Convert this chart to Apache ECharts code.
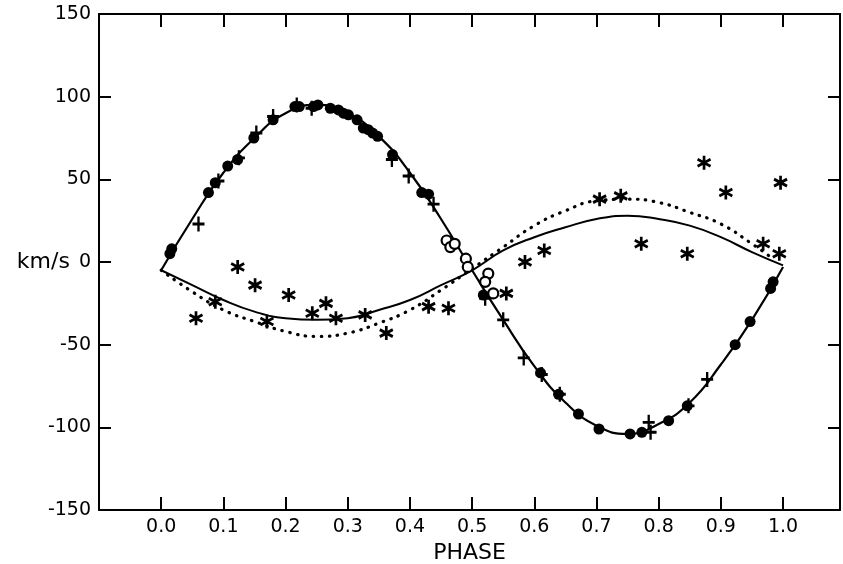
<!DOCTYPE html>
<html>
<head>
<meta charset="utf-8">
<script src="https://cdn.jsdelivr.net/npm/echarts@6/dist/echarts.min.js"></script>
<style>
html,body{margin:0;padding:0;background:#fff;}
#chart{width:843px;height:564px;}
</style>
</head>
<body>
<div id="chart"></div>
<script>
// ---- data ----
var fitPhase = [0.00,0.05,0.10,0.15,0.20,0.25,0.30,0.35,0.40,0.45,0.50,0.55,0.60,0.65,0.70,0.75,0.80,0.85,0.90,0.95,1.00];
var primaryFit = [-5,26,54,75,90,95,90,76,54,26,-5,-35,-63,-85,-99,-104,-98,-85,-62,-35,-3];
var secondaryFit = [-5,-14,-23,-30,-34,-35,-34,-29,-23,-14,-5,7,15,21,26,28,26,22,15,6,-2];
var dottedPhase = [0.00,0.05,0.10,0.15,0.20,0.25,0.30,0.35,0.40,0.45,0.50,0.55,0.60,0.65,0.70,0.75,0.80,0.85,0.90,0.95,0.98];
var secondaryFitAlt = [-5,-18,-29,-36,-42,-45,-43,-37,-29,-17,-4,9,22,31,37,38,36,30,23,11,3];

var filledCircles = [[0.014,5],[0.017,8],[0.076,42],[0.087,48],[0.107,58],[0.123,62],[0.149,75],[0.180,86],[0.215,94],[0.222,94],[0.245,94],[0.252,95],[0.272,93],[0.285,92],[0.293,90],[0.301,89],[0.315,86],[0.325,81],[0.333,80],[0.340,78],[0.348,76],[0.372,65],[0.419,42],[0.430,41],[0.518,-20],[0.610,-67],[0.639,-80],[0.671,-92],[0.704,-101],[0.754,-104],[0.773,-103],[0.816,-96],[0.846,-87],[0.923,-50],[0.947,-36],[0.980,-16],[0.984,-12]];
var plusPoints = [[0.060,23],[0.092,49],[0.125,63],[0.153,78],[0.180,88],[0.218,95],[0.242,93],[0.371,62],[0.398,52],[0.438,35],[0.521,-22],[0.550,-35],[0.583,-58],[0.612,-68],[0.641,-80],[0.784,-97],[0.787,-103],[0.848,-87],[0.878,-71]];
var openCircles = [[0.459,13],[0.465,9],[0.472,11],[0.490,2],[0.493,-3],[0.526,-7],[0.521,-12],[0.534,-19]];
var asterisks = [[0.056,-34],[0.087,-24],[0.123,-3],[0.151,-14],[0.170,-36],[0.205,-20],[0.243,-31],[0.265,-25],[0.281,-34],[0.328,-32],[0.362,-43],[0.430,-27],[0.462,-28],[0.555,-19],[0.585,0],[0.616,7],[0.705,38],[0.739,40],[0.772,11],[0.846,5],[0.873,60],[0.908,42],[0.968,11],[0.994,5],[0.996,48]];

var xTickLabels = ['0.0','0.1','0.2','0.3','0.4','0.5','0.6','0.7','0.8','0.9','1.0'];
var yTickLabels = {'150':'150','100':'100','50':'50','0':'{u|km/s}0','-50':'-50','-100':'-100','-150':'-150'};

function pairs(xs, ys){ return xs.map(function(x,i){ return [x, ys[i]]; }); }

var FONT = 'DejaVu Sans';
var chart = echarts.init(document.getElementById('chart'), null, {renderer:'canvas'});
var axisLine = {show:true, onZero:false, lineStyle:{color:'#000', width:2}};
var xBase = {type:'value', min:-0.1, max:1.0916, interval:0.1, splitLine:{show:false}, axisLine:axisLine};

chart.setOption({
  backgroundColor:'#fff',
  animation:false,
  textStyle:{fontFamily:FONT},
  grid:{left:99, top:14, right:3, bottom:54, containLabel:false, outerBoundsMode:'none'},
  xAxis:[
    Object.assign({}, xBase, {
      position:'bottom',
      name:'PHASE', nameLocation:'middle', nameGap:27,
      nameTextStyle:{fontSize:22, color:'#000', fontFamily:FONT},
      axisTick:{show:true, inside:true, length:13, lineStyle:{color:'#000', width:2}},
      axisLabel:{show:true, margin:8, fontSize:19, color:'#000', fontFamily:FONT,
        formatter:function(v){ var i = Math.round(v*10); if (Math.abs(v*10 - i) > 1e-6 || i < 0 || i > 10) return ''; return xTickLabels[i]; }}
    }),
    Object.assign({}, xBase, {
      position:'top',
      axisTick:{show:true, inside:true, length:13, lineStyle:{color:'#000', width:2}},
      axisLabel:{show:false}
    })
  ],
  yAxis:[
    {type:'value', position:'left', min:-150, max:150, interval:50, splitLine:{show:false}, axisLine:axisLine,
     axisTick:{show:true, inside:true, length:12, lineStyle:{color:'#000', width:2}},
     axisLabel:{show:true, margin:8, fontSize:19, color:'#000', fontFamily:FONT,
       rich:{u:{fontSize:22, fontFamily:FONT, color:'#000', padding:[0,9,0,0]}},
       formatter:function(v){ return yTickLabels[String(v)] || ''; }}},
    {type:'value', position:'right', min:-150, max:150, interval:50, splitLine:{show:false}, axisLine:axisLine,
     axisTick:{show:true, inside:true, length:12, lineStyle:{color:'#000', width:2}},
     axisLabel:{show:false}}
  ],
  series:[
    {type:'line', data:pairs(fitPhase, primaryFit), smooth:true, showSymbol:false, symbol:'none',
     lineStyle:{color:'#000', width:2.2}, z:2},
    {type:'line', data:pairs(fitPhase, secondaryFit), smooth:true, showSymbol:false, symbol:'none',
     lineStyle:{color:'#000', width:2}, z:2},
    {type:'line', data:pairs(dottedPhase, secondaryFitAlt), smooth:true, showSymbol:false, symbol:'none',
     lineStyle:{color:'#000', width:3.2, type:[0.5,7.5], cap:'round'}, z:2},
    {type:'scatter', data:filledCircles, symbol:'circle', symbolSize:11,
     itemStyle:{color:'#000', opacity:1}, z:5},
    {type:'scatter', data:plusPoints, symbol:'path://M0,-10L0,10M-8,0L8,0', symbolSize:[12,15],
     itemStyle:{color:'none', borderColor:'#000', borderWidth:2.6, opacity:1}, z:6},
    {type:'scatter', data:openCircles, symbol:'circle', symbolSize:10,
     itemStyle:{color:'#fff', borderColor:'#000', borderWidth:2.2, opacity:1}, z:6},
    {type:'scatter', data:asterisks, symbol:'path://M0,-10L0,10M-8.66,-5L8.66,5M-8.66,5L8.66,-5', symbolSize:[13,14],
     itemStyle:{color:'none', borderColor:'#000', borderWidth:2.8, opacity:1}, z:6}
  ]
});
</script>
</body>
</html>
